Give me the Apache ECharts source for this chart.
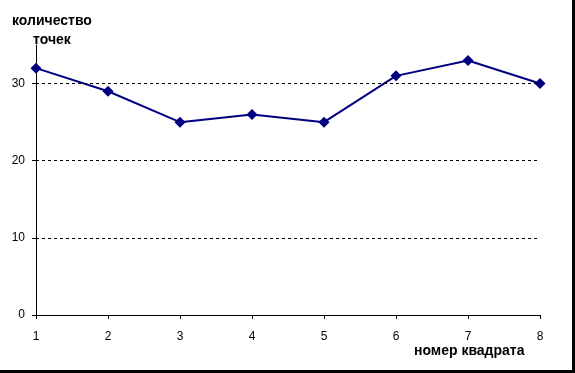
<!DOCTYPE html>
<html><head><meta charset="utf-8">
<script src="https://cdn.jsdelivr.net/npm/echarts@6/dist/echarts.min.js"></script>
<style>html,body{margin:0;padding:0;background:#fff}#c{width:575px;height:373px}</style>
</head><body><div id="c"></div>
<script>
const categories = ['1','2','3','4','5','6','7','8'];
const values = [32, 29, 25, 26, 25, 31, 33, 30];
const yTicks = [0, 10, 20, 30];
const gridValues = [10, 20, 30];
const yTitleLines = ['количество', 'точек'];
const xTitle = 'номер квадрата';

const chart = echarts.init(document.getElementById('c'), null, {renderer: 'canvas'});
const font = '"Liberation Sans", Arial, sans-serif';
chart.setOption({
  animation: false,
  backgroundColor: '#fff',
  grid: {left: 36, right: 35, top: 45, bottom: 58, containLabel: false},
  xAxis: {
    type: 'category', data: categories, boundaryGap: false,
    axisLine: {lineStyle: {color: '#000', width: 1}},
    axisTick: {show: true, length: 4, alignWithLabel: true, lineStyle: {color: '#000'}},
    axisLabel: {color: '#000', fontFamily: font, fontSize: 12, margin: 16},
    splitLine: {show: false}
  },
  yAxis: {
    type: 'value', min: 0, max: 35,
    axisLine: {show: true, lineStyle: {color: '#000', width: 1}},
    axisTick: {show: true, length: 4, customValues: yTicks, lineStyle: {color: '#000'}},
    axisLabel: {color: '#000', fontFamily: font, fontSize: 12, margin: 11, customValues: yTicks},
    splitLine: {show: false}
  },
  series: [{
    type: 'line', data: values,
    lineStyle: {color: '#000080', width: 2},
    itemStyle: {color: '#000080'},
    symbol: 'diamond', symbolSize: 11,
    z: 3,
    markLine: {
      silent: true, symbol: 'none', label: {show: false},
      lineStyle: {color: '#000', type: [3, 3], width: 1},
      data: gridValues.map(v => ({yAxis: v}))
    }
  }],
  graphic: [
    {type: 'text', left: 12, top: 14, style: {text: yTitleLines[0], font: 'bold 14px ' + font, fill: '#000'}},
    {type: 'text', left: 33, top: 33, style: {text: yTitleLines[1], font: 'bold 14px ' + font, fill: '#000'}},
    {type: 'text', left: 414, top: 344, style: {text: xTitle, font: 'bold 14px ' + font, fill: '#000'}},
    {type: 'rect', shape: {x: 0, y: 370, width: 575, height: 3}, style: {fill: '#000'}},
    {type: 'rect', shape: {x: 572, y: 0, width: 3, height: 373}, style: {fill: '#000'}}
  ]
});
</script></body></html>
